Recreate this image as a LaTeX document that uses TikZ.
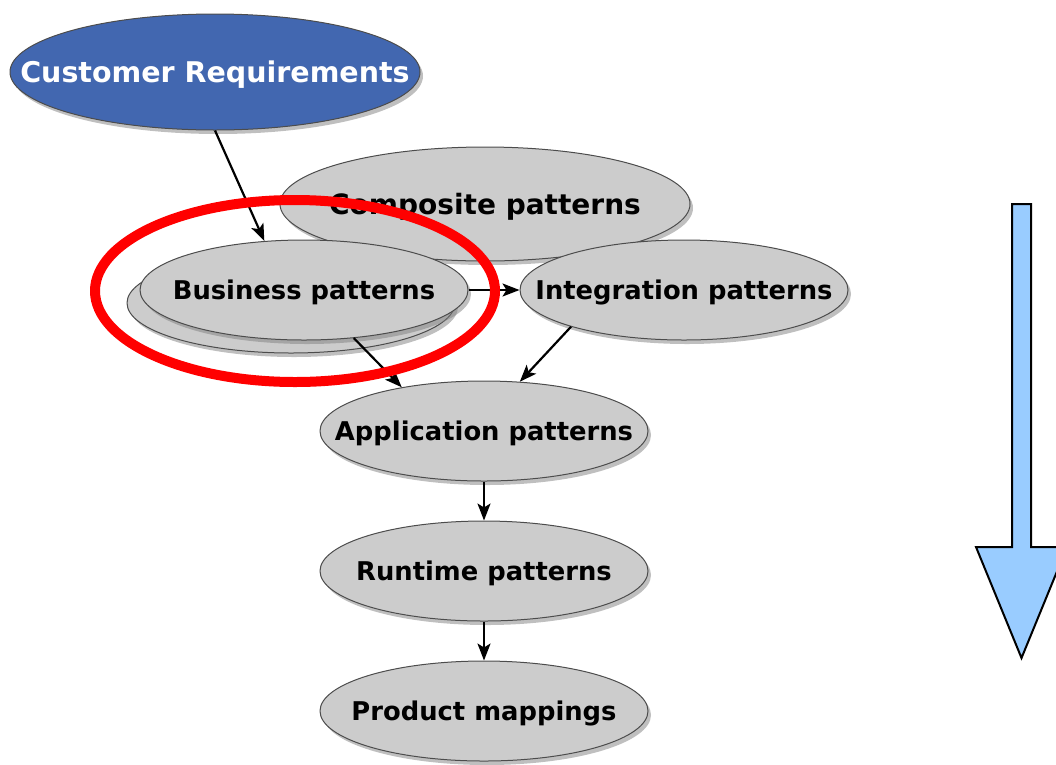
\documentclass[tikz,border=0pt]{standalone}
\usepackage{fontspec}
\setmainfont{DejaVu Sans}
\usetikzlibrary{arrows.meta, shapes, shadows}
\usepackage{xcolor}
\definecolor{custblue}{RGB}{66,103,176}
\definecolor{patterngray}{RGB}{204,204,204}
\definecolor{arrowblue}{RGB}{153,204,255}

\begin{document}
\begin{tikzpicture}[
                line join=bevel,
                bigbluenode/.style={shape=ellipse, fill=custblue, draw=black!70, line width=1pt, inner sep=0pt, text depth=0pt,
                    minimum width=410pt, minimum height=116pt, text=white, font=\bfseries\fontsize{28.5}{32}\selectfont,
                    drop shadow={shadow xshift=3pt, shadow yshift=-4pt, opacity=0.5}},
                biggraynode/.style={shape=ellipse, fill=patterngray, draw=black!70, line width=1pt, inner sep=0pt, text depth=0pt,
                    minimum width=328pt, minimum height=100pt, font=\bfseries\fontsize{25.8}{30}\selectfont,
                    drop shadow={shadow xshift=3pt, shadow yshift=-4pt, opacity=0.5}},
                widegraynode/.style={biggraynode, minimum width=410pt, minimum height=114pt, font=\bfseries\fontsize{28}{32}\selectfont},
                flow/.style={-{Stealth[length=17pt, width=13pt, inset=4pt]}, line width=2.2pt}
                ]
                \useasboundingbox (0pt, 0pt) rectangle (1056pt, -764pt);
                \clip (0pt, 0pt) rectangle (1056pt, -764pt);

                %% Nodes (text boxed to zero width so the ellipse keeps its size)
                \node[widegraynode] (comp) at (485pt, -204pt) {\makebox[0pt]{Composite patterns}};
                \node[biggraynode] (bizback) at (291pt, -303pt) {};
                \node[biggraynode] (biz) at (304pt, -290pt) {\makebox[0pt]{Business patterns}};
                \node[biggraynode] (integ) at (684pt, -290pt) {\makebox[0pt]{Integration patterns}};
                \node[biggraynode] (app) at (484pt, -431pt) {\makebox[0pt]{Application patterns}};
                \node[biggraynode] (run) at (484pt, -571pt) {\makebox[0pt]{Runtime patterns}};
                \node[biggraynode] (prod) at (484pt, -711pt) {\makebox[0pt]{Product mappings}};
                \node[bigbluenode] (cust) at (215pt, -72pt) {\makebox[0pt]{Customer Requirements}};

                %% Draws
                \draw[flow] (cust.south) -- (biz.129);
                \draw[flow] (biz.east) -- (integ.west);
                \draw[flow] (biz.-44) -- (app.152);
                \draw[flow] (integ.198) -- (app.54);
                \draw[flow] (app.south) -- (run.north);
                \draw[flow] (run.south) -- (prod.north);

                % Highlight
                \draw[red, line width=10pt] (295pt, -291pt) ellipse (200pt and 91pt);

                % Direction arrow
                \filldraw[draw=black, fill=arrowblue, line width=2pt, line join=miter]
                    (1012pt, -204pt) -- (1031pt, -204pt) -- (1031pt, -547pt) -- (1067pt, -547pt)
                    -- (1021.5pt, -658pt) -- (976pt, -547pt) -- (1012pt, -547pt) -- cycle;
                    \end{tikzpicture}
\end{document}
